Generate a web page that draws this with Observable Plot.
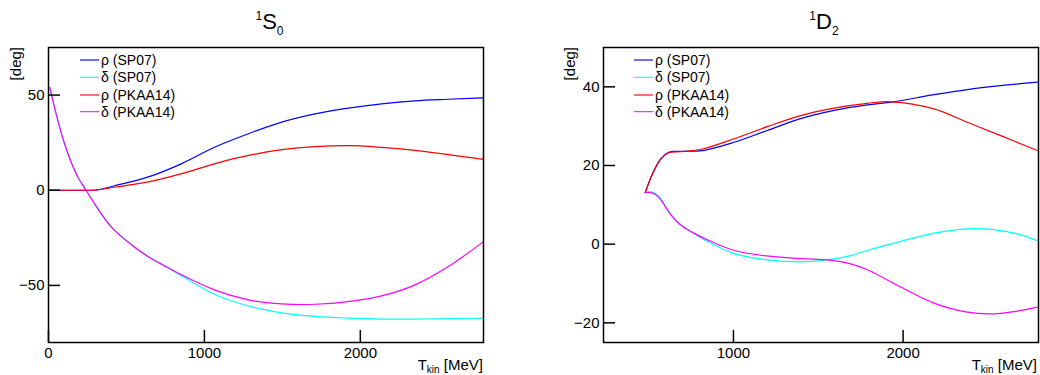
<!DOCTYPE html>
<html>
<head>
<meta charset="utf-8">
<script src="https://cdn.jsdelivr.net/npm/d3@7"></script>
<script src="https://cdn.jsdelivr.net/npm/@observablehq/plot@0.6"></script>
<style>
  html, body { margin: 0; padding: 0; background: white; }
  #wrap { position: relative; width: 1040px; height: 375px; overflow: hidden;
          font-family: "Liberation Sans", Arial, Helvetica, sans-serif; }
  #wrap > .panel { position: absolute; top: 0; }
  #overlay { position: absolute; left: 0; top: 0; pointer-events: none; }
</style>
</head>
<body>
<div id="wrap"></div>
<script>
// ---------- Data: 1S0 panel ----------
const s0_delta_T      = [8, 60, 103, 145, 188, 241, 295, 402, 530, 641, 761, 855, 1068, 1282, 1496, 1710, 1923, 2137, 2351, 2564, 2790];
const s0_delta_SP07   = [54, 36.6, 24.4, 14.8, 7, 0, -7, -19.2, -28.5, -35, -40.5, -45, -54.8, -60.8, -64.4, -66.3, -67.2, -67.7, -67.7, -67.5, -67.2];
const s0_delta_PKAA14 = [54, 36.6, 24.4, 14.8, 7, 0, -7, -19.2, -28.5, -35, -40.5, -44.5, -52.5, -57.6, -59.7, -59.9, -58.5, -55.5, -49.7, -40.1, -27];
const s0_rho_T        = [0, 284, 430, 641, 855, 1068, 1282, 1496, 1710, 1923, 2137, 2351, 2564, 2790];
const s0_rho_SP07     = [0, 0, 2.5, 7, 14, 22.7, 29.7, 35.8, 40.1, 43.1, 45.4, 47, 47.8, 48.5];
const s0_rho_PKAA14   = [0, 0, 1.7, 4.4, 8.7, 14, 18.3, 21.3, 22.9, 23.4, 22.5, 20.9, 18.7, 16.2];

// ---------- Data: 1D2 panel ----------
const d2_rho_T        = [480, 523, 572, 621, 680, 817, 1004, 1200, 1396, 1593, 1789, 1927, 2182, 2378, 2575, 2791];
const d2_rho_SP07     = [13.1, 17.9, 21.7, 23.4, 23.6, 23.8, 25.9, 28.9, 31.9, 34, 35.4, 36.1, 38, 39.3, 40.3, 41.2];
const d2_rho_PKAA14   = [13.1, 17.9, 21.7, 23.3, 23.5, 24.2, 26.8, 29.9, 32.7, 34.6, 35.8, 36.2, 34.4, 31, 27.6, 23.8];
const d2_delta_T      = [480, 515, 550, 580, 620, 680, 758, 846, 1004, 1200, 1396, 1553, 1691, 1789, 1986, 2182, 2378, 2535, 2673, 2791];
const d2_delta_SP07   = [13.1, 13.3, 12.5, 11, 8.3, 5.2, 3.0, 0.7, -2.4, -4, -4.5, -4, -2.9, -1.6, 0.7, 2.8, 3.9, 3.7, 2.6, 0.9];
const d2_delta_PKAA14 = [13.1, 13.1, 12.3, 10.8, 8.1, 5.2, 3.0, 1.1, -1.6, -3, -3.7, -4, -5, -6.5, -10.9, -15, -17.3, -17.7, -17, -16];

// ---------- Series / legend ----------
const seriesNames  = ["ρ (SP07)", "δ (SP07)", "ρ (PKAA14)", "δ (PKAA14)"];
const seriesColors = ["#0000ff", "#00ffff", "#ff0000", "#ff00ff"];
const legendColors = ["#6f6fff", "#00f0f0", "#ff6f6f", "#ff00ff"];
const legendWidths = [2, 1, 2, 1];

// Axis ticks
const s0_xTicks = [0, 1000, 2000];
const s0_yTicks = [-50, 0, 50];
const d2_xTicks = [1000, 2000];
const d2_yTicks = [-20, 0, 20, 40];

function rows(T, V, name) { return T.map((t, i) => ({T: t, v: V[i], s: name})); }

const s0Data = [
  rows(s0_rho_T, s0_rho_SP07, seriesNames[0]),
  rows(s0_delta_T, s0_delta_SP07, seriesNames[1]),
  rows(s0_rho_T, s0_rho_PKAA14, seriesNames[2]),
  rows(s0_delta_T, s0_delta_PKAA14, seriesNames[3])
];
const d2Data = [
  rows(d2_rho_T, d2_rho_SP07, seriesNames[0]),
  rows(d2_delta_T, d2_delta_SP07, seriesNames[1]),
  rows(d2_rho_T, d2_rho_PKAA14, seriesNames[2]),
  rows(d2_delta_T, d2_delta_PKAA14, seriesNames[3])
];

const FONT = '"Liberation Sans", Arial, Helvetica, sans-serif';
const fmt = d3.format("d");

function panel({data, curves, xDomain, yDomain, xTicks, yTicks, ml, mr}) {
  return Plot.plot({
    width: 520, height: 375,
    marginLeft: ml, marginRight: mr, marginTop: 47, marginBottom: 33,
    style: {fontFamily: FONT, fontSize: "15px", background: "white", color: "black", overflow: "visible"},
    x: {domain: xDomain},
    y: {domain: yDomain},
    marks: [
      ...data.map((d, i) => Plot.line(d, {x: "T", y: "v", stroke: seriesColors[i], strokeWidth: 1.2, curve: curves[i]})),
      Plot.axisX(xTicks, {tickSize: 12, dy: -12, text: null, strokeWidth: 1.5, label: null}),
      Plot.axisX(xTicks, {tickSize: 0, tickPadding: 5, fontSize: 15, label: null, tickFormat: fmt}),
      Plot.axisY(yTicks, {tickSize: 12, dx: 12, text: null, strokeWidth: 1.5, label: null}),
      Plot.axisY(yTicks, {tickSize: 0, tickPadding: 4, fontSize: 15, label: null, tickFormat: fmt}),
      Plot.frame({stroke: "black", strokeWidth: 1.5})
    ]
  });
}

const wrap = document.getElementById("wrap");
const p1 = panel({data: s0Data, curves: ["monotone-x", "catmull-rom", "monotone-x", "catmull-rom"],
  xDomain: [0, 2790], yDomain: [-80, 75], xTicks: s0_xTicks, yTicks: s0_yTicks, ml: 48, mr: 37});
const p2 = panel({data: d2Data, curves: ["catmull-rom", "catmull-rom", "catmull-rom", "catmull-rom"],
  xDomain: [234, 2798], yDomain: [-25, 50], xTicks: d2_xTicks, yTicks: d2_yTicks, ml: 83, mr: 2});
p1.classList.add("panel"); p2.classList.add("panel");
p1.style.left = "0px"; p2.style.left = "520px";
wrap.appendChild(p1); wrap.appendChild(p2);

// ---------- Overlay: titles, axis labels, legends ----------
const ov = d3.select(wrap).append("svg").attr("id", "overlay")
  .attr("width", 1040).attr("height", 375)
  .style("font-family", FONT);

function title(x, main, sub) {
  const t = ov.append("text").attr("x", x).attr("y", 29).attr("text-anchor", "middle")
    .attr("font-size", 22).attr("fill", "black");
  t.append("tspan").attr("font-size", 12).attr("dy", -9).text("1");
  t.append("tspan").attr("dy", 9).text(main);
  t.append("tspan").attr("font-size", 12).attr("dy", 6).text(sub);
}
title(269.5, "S", "0");
title(824, "D", "2");

function ylab(x) {
  ov.append("text").attr("transform", `translate(${x},47) rotate(-90)`)
    .attr("text-anchor", "end").attr("font-size", 15).attr("fill", "black").text("[deg]");
}
ylab(20.5); ylab(574.5);

function xlab(xr) {
  const t = ov.append("text").attr("x", xr).attr("y", 369.5).attr("text-anchor", "end")
    .attr("font-size", 15).attr("fill", "black");
  t.append("tspan").text("T");
  t.append("tspan").attr("font-size", 10).attr("dy", 3).text("kin");
  t.append("tspan").attr("dy", -3).text(" [MeV]");
}
xlab(483); xlab(1037);

function legend(x0) {
  const rowsY = [60, 77.3, 95, 111.7];
  seriesNames.forEach((name, i) => {
    ov.append("line").attr("x1", x0).attr("x2", x0 + 19).attr("y1", rowsY[i]).attr("y2", rowsY[i])
      .attr("stroke", legendColors[i]).attr("stroke-width", legendWidths[i]);
    ov.append("text").attr("x", x0 + 21).attr("y", rowsY[i] + 5).attr("font-size", 14)
      .attr("fill", "black").text(name);
  });
}
legend(80); legend(634);
</script>
</body>
</html>
